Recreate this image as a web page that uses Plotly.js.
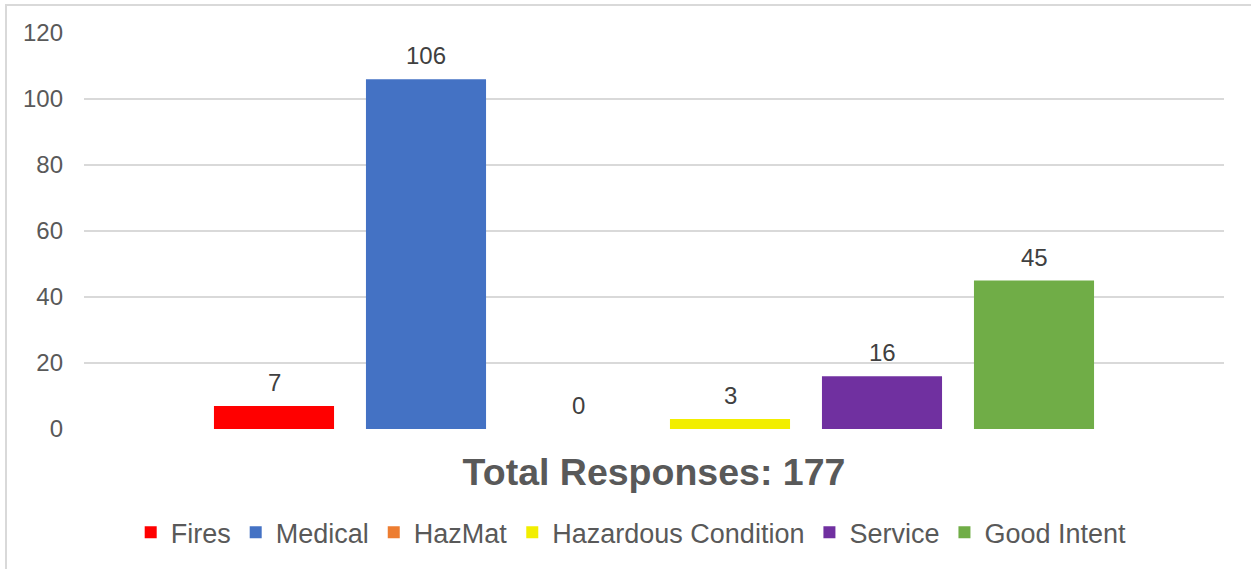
<!DOCTYPE html>
<html>
<head>
<meta charset="utf-8">
<script src="https://cdn.plot.ly/plotly-3.0.1.min.js"></script>
<style>
  html, body { margin: 0; padding: 0; background: #fff; overflow: hidden; }
  #chart { width: 1251px; height: 569px; position: absolute; left: 0; top: 0; }
  #frame { position: absolute; left: 5px; top: 4px; width: 1300px; height: 700px;
           border-top: 2px solid #d9d9d9; border-left: 2px solid #d9d9d9; pointer-events: none; }
</style>
</head>
<body>
<div id="chart"></div>
<div id="frame"></div>
<script>
const seriesNames = ["Fires", "Medical", "HazMat", "Hazardous Condition", "Service", "Good Intent"];
const seriesValues = [7, 106, 0, 3, 16, 45];
const seriesColors = ["#FF0000", "#4472C4", "#ED7D31", "#F2EE00", "#7030A0", "#70AD47"];
const axisTitle = "Total Responses: 177";
const yTicks = [0, 20, 40, 60, 80, 100, 120];

const font = "Liberation Sans, Arial, sans-serif";

const traces = seriesNames.map((name, i) => ({
  type: "bar",
  name: name,
  x: [i],
  y: [seriesValues[i]],
  width: 0.79,
  marker: { color: seriesColors[i] },
  hoverinfo: "skip"
}));

const annotations = seriesNames.map((name, i) => ({
  x: i,
  y: seriesValues[i],
  xref: "x",
  yref: "y",
  text: String(seriesValues[i]),
  showarrow: false,
  yanchor: "bottom",
  yshift: 8,
  font: { family: font, size: 24, color: "#404040" }
}));

const layout = {
  width: 1251,
  height: 569,
  margin: { l: 84, r: 27, t: 33, b: 140 },
  paper_bgcolor: "rgba(0,0,0,0)",
  plot_bgcolor: "#fff",
  showlegend: true,
  barmode: "overlay",
  xaxis: {
    range: [-1.25, 6.25],
    showgrid: false,
    zeroline: false,
    showticklabels: false,
    ticks: "",
    showline: false,
    fixedrange: true,
    title: {
      text: "<b>" + axisTitle + "</b>",
      font: { family: font, size: 37.5, color: "#595959" },
      standoff: 29
    }
  },
  yaxis: {
    range: [0, 120],
    tickvals: yTicks,
    ticktext: yTicks.map(String),
    showgrid: true,
    gridcolor: "#d9d9d9",
    gridwidth: 1.5,
    zeroline: false,
    showline: false,
    ticks: "",
    ticklabelstandoff: 20,
    tickfont: { family: font, size: 24, color: "#595959" },
    fixedrange: true
  },
  legend: {
    orientation: "h",
    x: 0.48,
    xanchor: "center",
    y: -0.262,
    yanchor: "middle",
    font: { family: font, size: 27, color: "#595959" },
    itemwidth: 30,
    traceorder: "normal",
    bgcolor: "rgba(0,0,0,0)"
  },
  annotations: annotations
};

Plotly.newPlot("chart", traces, layout, { displayModeBar: false, staticPlot: true });
</script>
</body>
</html>
